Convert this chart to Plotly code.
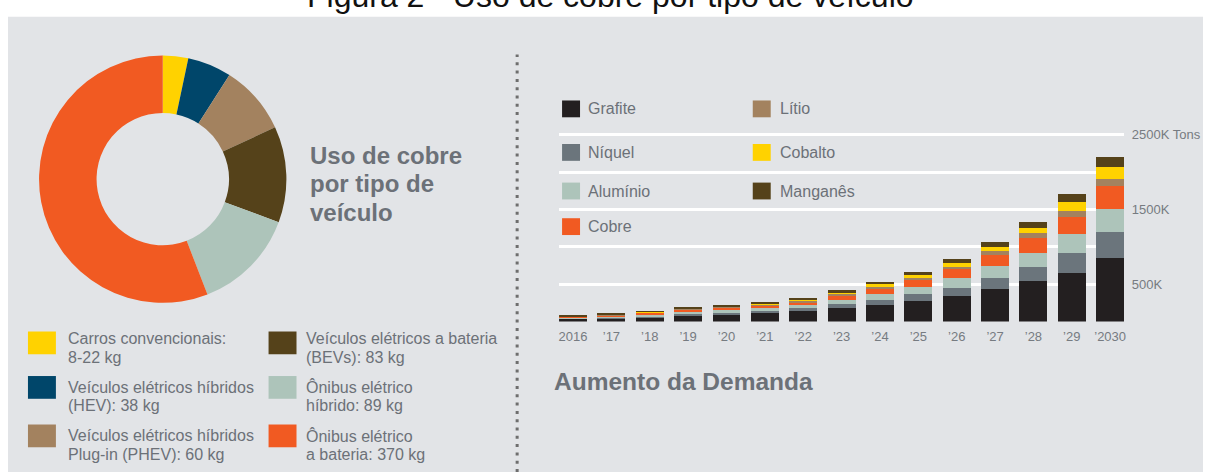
import plotly.graph_objects as go

# ---------------- data ----------------
# Copper use per vehicle type (kg per vehicle)
vehicle_types = [
    "Carros convencionais",
    "Veículos elétricos híbridos (HEV)",
    "Veículos elétricos híbridos Plug-in (PHEV)",
    "Veículos elétricos a bateria (BEVs)",
    "Ônibus elétrico híbrido",
    "Ônibus elétrico a bateria",
]
copper_kg = [22, 38, 60, 83, 89, 370]
vehicle_labels = [
    ("Carros convencionais:", "8-22 kg"),
    ("Veículos elétricos híbridos", "(HEV): 38 kg"),
    ("Veículos elétricos híbridos", "Plug-in (PHEV): 60 kg"),
    ("Veículos elétricos a bateria", "(BEVs): 83 kg"),
    ("Ônibus elétrico", "híbrido: 89 kg"),
    ("Ônibus elétrico", "a bateria: 370 kg"),
]

# Battery-material demand per year (thousand tons)
years = ["2016", "’17", "’18", "’19", "’20", "’21", "’22", "’23", "’24",
         "’25", "’26", "’27", "’28", "’29", "’2030"]
grafite = [40, 53, 66, 88, 102, 115, 137, 181, 225, 278, 344, 433, 543, 653, 852]
niquel = [7, 9, 13, 21, 26, 40, 45, 61, 66, 88, 110, 150, 185, 265, 344]
aluminio = [13, 18, 26, 26, 26, 26, 35, 49, 75, 97, 124, 159, 190, 252, 314]
cobre = [8, 13, 16, 33, 40, 44, 49, 66, 88, 93, 132, 150, 199, 234, 307]
litio = [4, 8, 5, 7, 9, 10, 18, 22, 13, 31, 26, 53, 66, 75, 94]
cobalto = [4, 4, 9, 9, 9, 10, 18, 22, 31, 35, 53, 60, 75, 123, 160]
manganes = [8, 8, 8, 11, 13, 13, 13, 22, 35, 44, 53, 66, 80, 110, 127]

material_names = ["Grafite", "Níquel", "Alumínio", "Cobre", "Lítio", "Cobalto", "Manganês"]
material_values = [grafite, niquel, aluminio, cobre, litio, cobalto, manganes]

y_tick_values = [500, 1000, 1500, 2000, 2500]
y_tick_labels = ["500K", "", "1500K", "", "2500K Tons"]

# ---------------- styling ----------------
W, H = 1205, 472
PANEL = "#e2e4e7"
TEXT_GRAY = "#6c7178"
FONT = "Liberation Sans, Arial, sans-serif"

vehicle_colors = ["#ffd200", "#00466a", "#a3825f", "#55421a", "#adc4ba", "#f15a22"]
material_colors = {
    "Grafite": "#231f20",
    "Níquel": "#6b757c",
    "Alumínio": "#adc4ba",
    "Cobre": "#f15a22",
    "Lítio": "#a3825f",
    "Cobalto": "#ffd200",
    "Manganês": "#55421a",
}


def fx(px):
    return px / W


def fy(py):
    return 1 - py / H


def center_from_baseline(baseline, size):
    # annotation boxes are centred on the text box; shift from the baseline
    return baseline - 0.3465 * size


fig = go.Figure()

# Donut: copper per vehicle type
fig.add_trace(go.Pie(
    labels=vehicle_types,
    values=copper_kg,
    hole=0.535,
    sort=False,
    direction="clockwise",
    rotation=0,
    marker=dict(colors=vehicle_colors, line=dict(width=0)),
    textinfo="none",
    hoverinfo="label+value",
    showlegend=False,
    domain=dict(x=[fx(38), fx(288)], y=[fy(301), fy(51)]),
))

# Stacked bars: material demand
for name, vals in zip(material_names, material_values):
    fig.add_trace(go.Bar(
        x=years,
        y=vals,
        name=name,
        marker=dict(color=material_colors[name], line=dict(width=0)),
        showlegend=False,
        xaxis="x",
        yaxis="y",
    ))

shapes = []
annotations = []

# grey panel behind everything
shapes.append(dict(type="rect", xref="paper", yref="paper",
                   x0=fx(8), x1=1, y0=0, y1=fy(12),
                   fillcolor=PANEL, line=dict(width=0), layer="below"))

# dotted divider
shapes.append(dict(type="line", xref="paper", yref="paper",
                   x0=fx(518), x1=fx(518), y0=0, y1=fy(50),
                   line=dict(color="#6e6e6e", width=3, dash="3px,5.3px")))

# figure caption (partly cut at the top edge)
annotations.append(dict(
    text="Figura 2 - Uso de cobre por tipo de veículo",
    xref="paper", yref="paper", x=fx(612), y=fy(center_from_baseline(2, 32)),
    xanchor="center", yanchor="middle", showarrow=False,
    font=dict(family=FONT, size=32, color="#111111")))

# donut heading
for i, line in enumerate(["Uso de cobre", "por tipo de", "veículo"]):
    annotations.append(dict(
        text=f"<b>{line}</b>", xref="paper", yref="paper",
        x=fx(309), y=fy(center_from_baseline(160 + 29.2 * i, 24)),
        xanchor="left", yanchor="middle", showarrow=False,
        font=dict(family=FONT, size=24, color=TEXT_GRAY)))

# donut key (two columns of three)
key_cols_x = [28, 269]
key_text_x = [66, 305]
row_square_top = [330, 375, 424]
row_baseline = [343, 392, 441]
for i, (color, (l1, l2)) in enumerate(zip(vehicle_colors, vehicle_labels)):
    col, row = divmod(i, 3)
    sx = key_cols_x[col]
    shapes.append(dict(type="rect", xref="paper", yref="paper",
                       x0=fx(sx), x1=fx(sx + 28),
                       y0=fy(row_square_top[row] + 23), y1=fy(row_square_top[row]),
                       fillcolor=color, line=dict(width=0)))
    for j, txt in enumerate([l1, l2]):
        annotations.append(dict(
            text=txt, xref="paper", yref="paper",
            x=fx(key_text_x[col]),
            y=fy(center_from_baseline(row_baseline[row] + 18.5 * j, 16)),
            xanchor="left", yanchor="middle", showarrow=False,
            font=dict(family=FONT, size=16, color=TEXT_GRAY)))

# bar chart key (reading order fills rows left to right)
bar_key_rows = [105, 149, 188, 224]
bar_key_sq_x = [563, 754]
bar_key_txt_x = [587, 779]
for i, name in enumerate(material_names):
    row = i if i < 4 else i - 4
    col = 0 if i < 4 else 1
    cy = bar_key_rows[row]
    sx = bar_key_sq_x[col]
    shapes.append(dict(type="rect", xref="paper", yref="paper",
                       x0=fx(sx), x1=fx(sx + 18),
                       y0=fy(cy + 8.5), y1=fy(cy - 8.5),
                       fillcolor=material_colors[name], line=dict(width=0)))
    annotations.append(dict(
        text=name, xref="paper", yref="paper",
        x=fx(bar_key_txt_x[col]), y=fy(cy),
        xanchor="left", yanchor="middle", showarrow=False,
        font=dict(family=FONT, size=16, color=TEXT_GRAY)))

# bar chart heading
annotations.append(dict(
    text="<b>Aumento da Demanda</b>", xref="paper", yref="paper",
    x=fx(553), y=fy(center_from_baseline(389.5, 24.5)),
    xanchor="left", yanchor="middle", showarrow=False,
    font=dict(family=FONT, size=24.5, color=TEXT_GRAY)))

# y scale: 0 at pixel 320, 0.0755 px per thousand tons
Y_TOP = 2530
n = len(years)
half = 0.5 * (1 - 0.2714)
fig.update_layout(
    width=W, height=H,
    margin=dict(l=0, r=0, t=0, b=0),
    paper_bgcolor="white",
    plot_bgcolor="rgba(0,0,0,0)",
    barmode="stack",
    bargap=0.2714,
    font=dict(family=FONT, color=TEXT_GRAY),
    xaxis=dict(
        domain=[fx(560), fx(1126)],
        type="category",
        range=[-half, n - 1 + half],
        showgrid=False, zeroline=False, showline=False,
        ticks="outside", ticklen=3, tickcolor="rgba(0,0,0,0)",
        tickfont=dict(family=FONT, size=13, color="#767b81"),
        fixedrange=True,
    ),
    yaxis=dict(
        domain=[fy(320), fy(320 - Y_TOP * 0.0755)],
        range=[0, Y_TOP],
        side="right",
        tickvals=y_tick_values,
        ticktext=y_tick_labels,
        showgrid=True, gridcolor="white", gridwidth=2.5,
        zeroline=False, showline=False,
        ticks="outside", ticklen=4, tickcolor="rgba(0,0,0,0)",
        tickfont=dict(family=FONT, size=13, color="#767b81"),
        fixedrange=True,
    ),
    shapes=shapes,
    annotations=annotations,
)

fig.write_html("out.html")
